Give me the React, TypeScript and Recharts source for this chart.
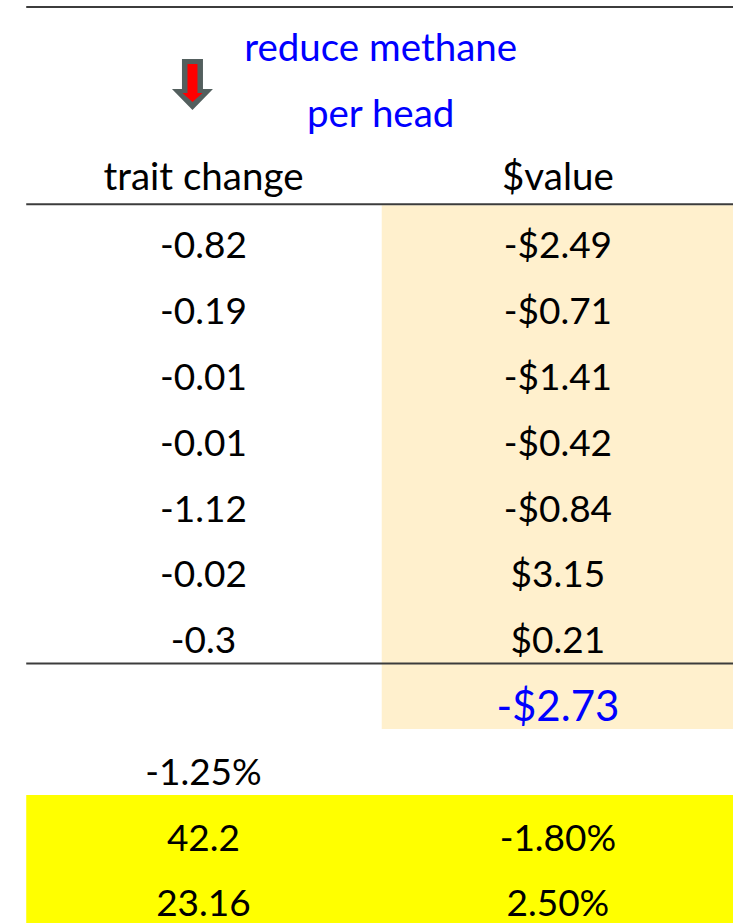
import React from "react";
import {
  ScatterChart,
  Scatter,
  XAxis,
  YAxis,
  ReferenceArea,
  ReferenceLine,
} from "recharts";

// table contents
const titleLines = ["reduce methane", "per head"];
const headers = ["trait change", "$value"];
const traitChange = [-0.82, -0.19, -0.01, -0.01, -1.12, -0.02, -0.3];
const dollarValue = [-2.49, -0.71, -1.41, -0.42, -0.84, 3.15, 0.21];
const totalValue = -2.73;
const traitPct = -1.25;
const summaryLeft = [42.2, 23.16];
const summaryRight = [-1.8, 2.5];

// layout in table units: columns are 0 and 1, rows count from the first value row
const X_DOMAIN: [number, number] = [-0.574, 1.494];
const Y_DOMAIN: [number, number] = [-3.723, 10.304];
const LEFT_EDGE = -0.5;
const MID_EDGE = 0.503;
const TOP_LINE = -3.617;
const HEADER_LINE = -0.619;
const SUM_LINE = 6.36;
const PEACH = [-0.603, 7.356];
const YELLOW = [8.359, 10.304];

const FONT = "Lato, 'Noto Sans', sans-serif";
const BLUE = "#0000ff";
const LINE = "#3c3c3c";

const money = (v: number) => (v < 0 ? `-$${Math.abs(v).toFixed(2)}` : `$${v.toFixed(2)}`);
const pct = (v: number) => `${v.toFixed(2)}%`;

type Cell = { col: number; row: number; text: string; color?: string; size?: number; dy?: number };

const cells: Cell[] = [
  ...titleLines.map((t, i) => ({ col: 0.5, row: -3 + i, text: t, color: BLUE, size: 38.5 })),
  ...headers.map((t, i) => ({ col: i, row: -1, text: t, size: 38.5, dy: -3 })),
  ...traitChange.map((v, i) => ({ col: 0, row: i, text: String(v) })),
  ...dollarValue.map((v, i) => ({ col: 1, row: i, text: money(v) })),
  { col: 1, row: 7, text: money(totalValue), color: BLUE, size: 42 },
  { col: 0, row: 8, text: pct(traitPct) },
  ...summaryLeft.map((v, i) => ({ col: 0, row: 9 + i, text: String(v) })),
  ...summaryRight.map((v, i) => ({ col: 1, row: 9 + i, text: pct(v) })),
];

const arrowMark = [{ col: -0.031, row: -2.05 }];

const TextShape = (props: any) => {
  const { cx, cy, payload } = props;
  const size = payload.size ?? 37;
  return (
    <text
      x={cx}
      y={cy + (payload.dy ?? 0)}
      dy="0.36em"
      textAnchor="middle"
      fontFamily={FONT}
      fontSize={size}
      fill={payload.color ?? "#000"}
    >
      {payload.text}
    </text>
  );
};

// down arrow, tip at the point
const ArrowShape = (props: any) => {
  const { cx, cy } = props;
  const outer = [
    [-10.5, -51],
    [10.5, -51],
    [10.5, -21],
    [20.5, -21],
    [0, 0],
    [-20.5, -21],
    [-10.5, -21],
  ];
  const inner = [
    [-5, -46],
    [5, -46],
    [5, -17],
    [10, -17],
    [0, -8],
    [-10, -17],
    [-5, -17],
  ];
  const pts = (p: number[][]) => p.map(([x, y]) => `${cx + x},${cy + y}`).join(" ");
  return (
    <g>
      <polygon points={pts(outer)} fill="#535f5e" />
      <polygon points={pts(inner)} fill="#ff0000" />
    </g>
  );
};

export default function App() {
  return (
    <div style={{ position: "absolute", left: 0, top: 0, background: "#fff" }}>
      <ScatterChart width={733} height={923} margin={{ top: 0, right: 0, bottom: 0, left: 0 }}>
        <XAxis type="number" dataKey="col" domain={X_DOMAIN} allowDataOverflow hide />
        <YAxis type="number" dataKey="row" domain={Y_DOMAIN} reversed allowDataOverflow hide />
        <ReferenceArea
          x1={MID_EDGE}
          x2={X_DOMAIN[1]}
          y1={PEACH[0]}
          y2={PEACH[1]}
          fill="#fff0cd"
          fillOpacity={1}
          stroke="none"
        />
        <ReferenceArea
          x1={LEFT_EDGE}
          x2={X_DOMAIN[1]}
          y1={YELLOW[0]}
          y2={YELLOW[1]}
          fill="#ffff00"
          fillOpacity={1}
          stroke="none"
        />
        {[TOP_LINE, HEADER_LINE, SUM_LINE].map((y) => (
          <ReferenceLine
            key={y}
            segment={[
              { x: LEFT_EDGE, y },
              { x: X_DOMAIN[1], y },
            ]}
            stroke={LINE}
            strokeWidth={2}
          />
        ))}
        <Scatter data={arrowMark} shape={ArrowShape} isAnimationActive={false} />
        <Scatter data={cells} shape={TextShape} isAnimationActive={false} />
      </ScatterChart>
    </div>
  );
}
